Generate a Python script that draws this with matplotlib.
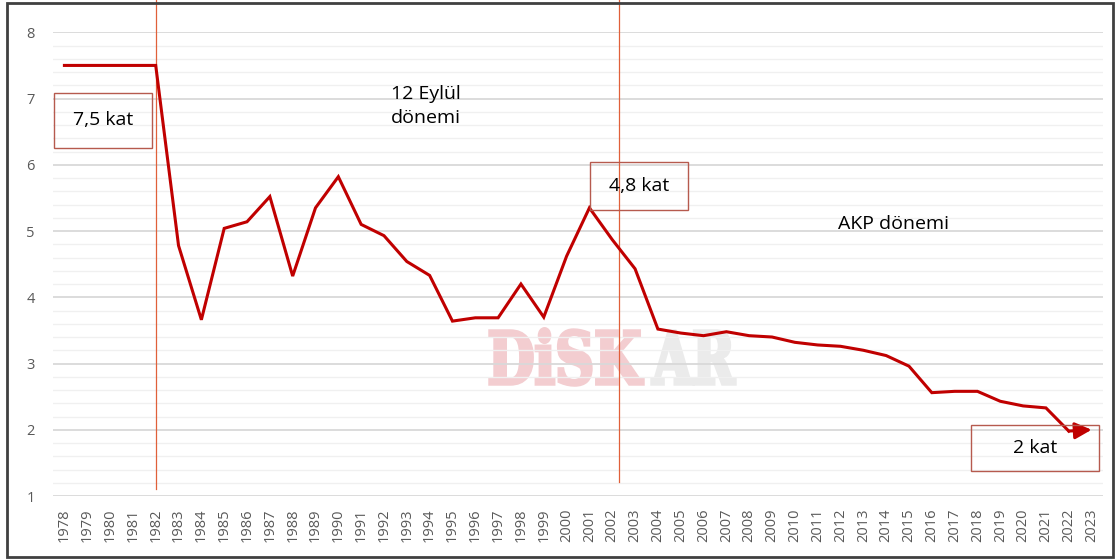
import matplotlib
matplotlib.use("Agg")
import matplotlib.pyplot as plt
from matplotlib.patches import Rectangle, PathPatch
from matplotlib.textpath import TextPath
from matplotlib.font_manager import FontProperties
from matplotlib.transforms import Affine2D, IdentityTransform
from matplotlib.ticker import MultipleLocator

years = list(range(1978, 2024))
values = [7.5, 7.5, 7.5, 7.5, 7.5,      # 1978-1982
          4.78, 3.66, 5.04, 5.14, 5.52,  # 1983-1987
          4.32, 5.35, 5.82, 5.10, 4.93,  # 1988-1992
          4.54, 4.33, 3.64, 3.69, 3.69,  # 1993-1997
          4.20, 3.70, 4.62, 5.35, 4.87,  # 1998-2002
          4.43, 3.52, 3.46, 3.42, 3.48,  # 2003-2007
          3.42, 3.40, 3.32, 3.28, 3.26,  # 2008-2012
          3.20, 3.12, 2.96, 2.56, 2.58,  # 2013-2017
          2.58, 2.43, 2.36, 2.33, 1.98,  # 2018-2022
          2.00]                          # 2023
period_lines = [1982, 2002.3]
box_labels = ["7,5 kat", "4,8 kat", "2 kat"]
period_texts = ["12 Eylül\ndönemi", "AKP dönemi"]

W, H = 1115, 559
fig = plt.figure(figsize=(W / 100, H / 100), dpi=100)
fig.patch.set_facecolor("white")
ax = fig.add_axes([53 / W, 1 - 496 / H, (1103 - 53) / W, (496 - 32.3) / H])
ax.set_facecolor("none")

FONT = "Open Sans"
tick_color = "#595959"

ax.set_xlim(1977.5, 2023.5)
ax.set_ylim(1, 8)
ax.yaxis.set_major_locator(MultipleLocator(1))
ax.yaxis.set_minor_locator(MultipleLocator(0.2))
ax.set_xticks(years)
ax.set_xticklabels([str(y) for y in years], rotation=90, fontsize=10.5,
                   color=tick_color, family=FONT)
for lbl in ax.get_yticklabels():
    lbl.set_fontsize(10.5)
    lbl.set_color(tick_color)
    lbl.set_family(FONT)
ax.tick_params(axis="x", length=0, pad=9)
ax.tick_params(axis="y", which="both", length=0, pad=13)
ax.grid(axis="y", which="major", color="#D9D9D9", lw=1.3, zorder=0)
ax.grid(axis="y", which="minor", color="#F0F0F0", lw=1.0, zorder=0)
for s in ax.spines.values():
    s.set_visible(False)

# watermark
def place_word(word, color, x0, x1, ybase, cap):
    prop = FontProperties(family="DejaVu Serif", weight="bold")
    tp = TextPath((0, 0), word, size=1, prop=prop)
    ext = tp.get_extents()
    capd = TextPath((0, 0), "D", size=1, prop=prop).get_extents().height
    sx = (x1 - x0) / ext.width
    sy = cap / capd
    tr = Affine2D().translate(-ext.x0, 0).scale(sx, sy).translate(x0, H - ybase)
    path = tr.transform_path(tp)
    fig.patches.append(PathPatch(path, facecolor=color, edgecolor=color,
                                 lw=2.5, transform=IdentityTransform(),
                                 zorder=0.5, figure=fig))

place_word("DiSK", "#F3CDD0", 490, 643, 384, 53)
place_word("AR", "#EBEBEB", 652, 735, 384, 53)

# main line
ax.plot(years[:-1], values[:-1], color="#C00000", lw=2.2, zorder=3,
        solid_joinstyle="miter")
ax.annotate("", xy=(years[-1], values[-1]), xytext=(years[-2], values[-2]),
            arrowprops=dict(arrowstyle="-|>,head_length=1.0,head_width=0.5",
                            color="#C00000", lw=2.2, shrinkA=0, shrinkB=0),
            zorder=3)

# period vertical lines (extend above plot)
vcol = "#E0603A"
ax.plot([period_lines[0]] * 2, [1.1, 8.6], color=vcol, lw=0.9, zorder=2,
        clip_on=False)
ax.plot([period_lines[1]] * 2, [1.21, 8.6], color=vcol, lw=0.9, zorder=2,
        clip_on=False)

# boxes
bcol = "#B65A4E"
boxes = [(1977.53, 6.25, 1981.82, 7.09), (2001.02, 5.31, 2005.33, 6.04),
         (2017.72, 1.38, 2023.32, 2.07)]
for (x0, y0, x1, y1), lab in zip(boxes, box_labels):
    ax.add_patch(Rectangle((x0, y0), x1 - x0, y1 - y0, fill=False,
                           edgecolor=bcol, lw=1.0, zorder=4, clip_on=False))
    ax.text((x0 + x1) / 2, (y0 + y1) / 2, lab, ha="center", va="center",
            fontsize=14, family=FONT, color="black", zorder=5)

ax.text(1992.3, 6.89, period_texts[0], ha="left", va="center", fontsize=14,
        family=FONT, linespacing=1.4, zorder=5)
ax.text(2011.9, 5.11, period_texts[1], ha="left", va="center", fontsize=14,
        family=FONT, zorder=5)

# outer frame
fig.patches.append(Rectangle((7, 2), 1106, 554, fill=False, edgecolor="#404040",
                             lw=2.0, transform=IdentityTransform(), figure=fig,
                             zorder=10))
ax.set_zorder(1)

fig.savefig("out.png", dpi=100)
